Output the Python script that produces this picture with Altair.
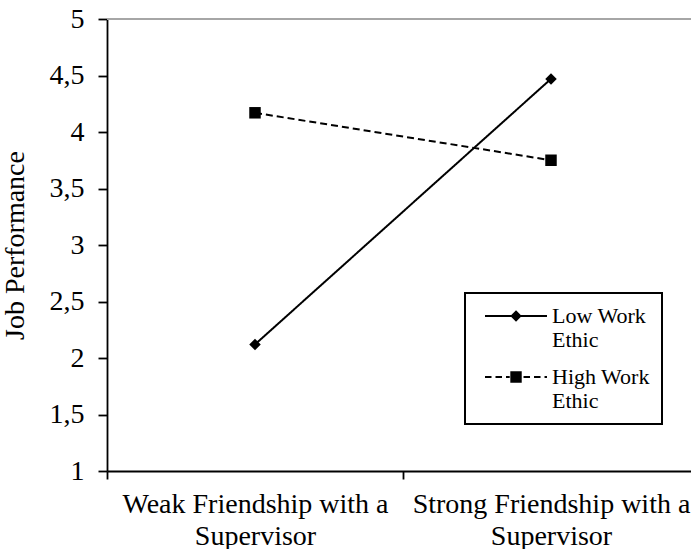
import altair as alt
import pandas as pd

# ---- data ----
friendship = ["Weak Friendship with a Supervisor", "Strong Friendship with a Supervisor"]
series = ["Low Work Ethic", "High Work Ethic"]
low_work_ethic = [2.12, 4.47]
high_work_ethic = [4.17, 3.75]
y_ticks = [1, 1.5, 2, 2.5, 3, 3.5, 4, 4.5, 5]

rows = []
for s, vals in zip(series, [low_work_ethic, high_work_ethic]):
    for f, v in zip(friendship, vals):
        rows.append({"friendship": f, "series": s, "performance": v})
df = pd.DataFrame(rows)

FONT = "Liberation Serif"

# ---- legend symbols: line + marker drawn as filled custom symbol paths ----
# (units: -1..1 box scaled by sqrt(symbolSize)/2 = 6 px per unit)
U = 6.0
L0, L1, MC = -0.5, 9.83, 4.67      # line start, line end, marker centre
HW = 1.0 / U                       # half line width
DASH, GAP = 6.5 / U, 4.0 / U


def seg(a, b):
    return f"M{a:.3f},{-HW:.3f}H{b:.3f}V{HW:.3f}H{a:.3f}Z"


def dashed(a, b):
    out, x = "", a
    while x < b:
        out += seg(x, min(x + DASH, b))
        x += DASH + GAP
    return out


dmd_h = 0.95
sq_h = 0.95
diamond_sym = (seg(L0, L1) +
               f"M{MC:.3f},{-dmd_h}L{MC+dmd_h:.3f},0L{MC:.3f},{dmd_h}L{MC-dmd_h:.3f},0Z")
square_sym = (dashed(L0, MC - sq_h - 0.1) + dashed(MC + sq_h + 0.3, L1) +
              f"M{MC-sq_h:.3f},{-sq_h}H{MC+sq_h:.3f}V{sq_h}H{MC-sq_h:.3f}Z")

dash_scale = alt.Scale(domain=series, range=[[1, 0], [7, 4]])

x_enc = alt.X(
    "friendship:N",
    sort=friendship,
    scale=alt.Scale(type="band", paddingInner=0, paddingOuter=0, range=[0, 592]),
    axis=alt.Axis(
        title=None, tickBand="extent", labelAngle=0,
        labelExpr="split(replace(datum.label, ' Supervisor', '|Supervisor'), '|')",
        labelFont=FONT, labelFontSize=28, labelColor="black", labelLineHeight=32,
        labelPadding=11, tickSize=8, tickColor="black", tickWidth=1.8,
        domainColor="black", domainWidth=1.8, labelLimit=400,
    ),
)
y_enc = alt.Y(
    "performance:Q",
    scale=alt.Scale(domain=[1, 5], nice=False, zero=False),
    axis=alt.Axis(
        values=y_ticks, grid=False, title="Job Performance",
        labelExpr="replace(format(datum.value, ''), '.', ',')",
        labelFont=FONT, labelFontSize=28, labelColor="black", labelPadding=14,
        tickSize=9, tickColor="black", tickWidth=1.8,
        domainColor="black", domainWidth=1.8,
        titleFont=FONT, titleFontSize=28, titleFontWeight="normal",
        titleColor="black", titlePadding=20,
    ),
)

base = alt.Chart(df)

top_rule = alt.Chart(df).mark_rule(color="#a6a6a6", strokeWidth=2).encode(
    y=alt.datum(y_ticks[-1])
)

lines = base.mark_line(color="black", strokeWidth=2).encode(
    x=x_enc, y=y_enc, detail="series:N",
    strokeDash=alt.StrokeDash("series:N", scale=dash_scale, legend=None),
)

points = base.mark_point(filled=True, color="black", opacity=1, size=132).encode(
    x=x_enc, y=y_enc,
    shape=alt.Shape("series:N", scale=alt.Scale(domain=series, range=["diamond", "square"]),
                    legend=None),
)

legend_layer = base.mark_point(filled=True, color="black", opacity=0, size=144).encode(
    x=x_enc, y=y_enc,
    shape=alt.Shape(
        "series:N",
        scale=alt.Scale(domain=series, range=[diamond_sym, square_sym]),
        legend=alt.Legend(
            title=None, orient="none", legendX=358, legendY=274,
            strokeColor="black", fillColor="white", padding=12,
            symbolSize=144, symbolFillColor="black", symbolOpacity=1,
            labelFont=FONT, labelFontSize=22, labelColor="black",
            labelOffset=53, rowPadding=15,
            labelExpr="split(replace(datum.label, ' Ethic', '|Ethic'), '|')",
        ),
    ),
)

chart = (
    alt.layer(top_rule, lines, points, legend_layer)
    .resolve_scale(shape="independent")
    .properties(
        width=584, height=452,
        padding={"left": 107, "top": 19, "right": 0, "bottom": 78},
        autosize=alt.AutoSizeParams(type="none"),
        background="white",
    )
    .configure_view(stroke=None)
    .configure_legend(strokeWidth=2)
)

chart.save("out.html", embed_options={"renderer": "svg", "actions": False})
